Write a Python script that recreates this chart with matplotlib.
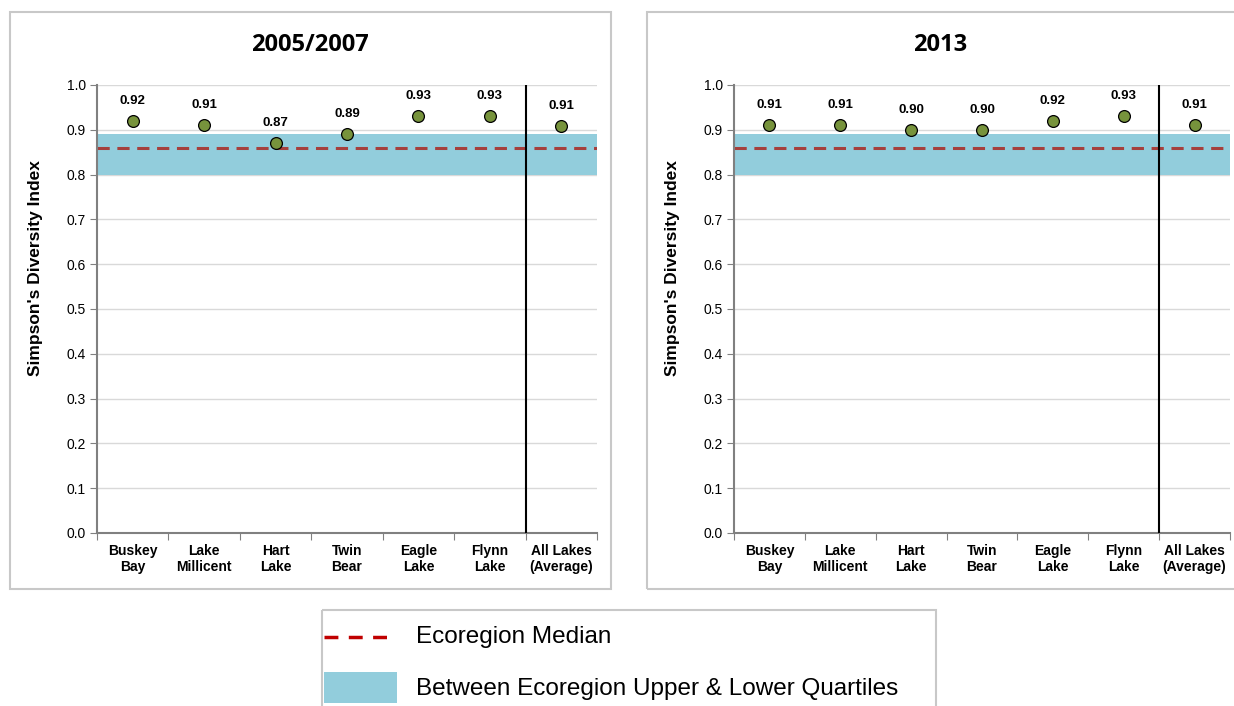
import matplotlib
matplotlib.use("Agg")
import matplotlib.pyplot as plt
from matplotlib.patches import Rectangle
from matplotlib.lines import Line2D

categories = ["Buskey\nBay", "Lake\nMillicent", "Hart\nLake", "Twin\nBear",
              "Eagle\nLake", "Flynn\nLake", "All Lakes\n(Average)"]
values_2005 = [0.92, 0.91, 0.87, 0.89, 0.93, 0.93, 0.908]
labels_2005 = ["0.92", "0.91", "0.87", "0.89", "0.93", "0.93", "0.91"]
values_2013 = [0.91, 0.91, 0.90, 0.90, 0.92, 0.93, 0.911]
labels_2013 = ["0.91", "0.91", "0.90", "0.90", "0.92", "0.93", "0.91"]
titles = ["2005/2007", "2013"]
eco_median = 0.86
eco_lower = 0.80
eco_upper = 0.89
yticks = [0.0, 0.1, 0.2, 0.3, 0.4, 0.5, 0.6, 0.7, 0.8, 0.9, 1.0]

W, H = 1234, 706
fig = plt.figure(figsize=(W / 100, H / 100), dpi=100)
plt.rcParams['font.family'] = ['Liberation Sans', 'DejaVu Sans']

band_color = "#92CDDC"
median_color = "#A5403D"
marker_color = "#77933C"

def fx(px):
    return px / W

def fy(py):
    return 1 - py / H

# panel borders
for (x0, x1) in [(10, 611), (647, 1240)]:
    fig.patches.append(Rectangle((fx(x0), fy(589)), fx(x1 - x0), (589 - 12) / H,
                                 transform=fig.transFigure, fill=False,
                                 edgecolor="#C8C8C8", linewidth=1.5))

axes_px = [(97, 597), (734, 1230)]
data = [(values_2005, labels_2005), (values_2013, labels_2013)]
title_x = [310, 940]
ylabel_x = [36, 673]

for i, ((x0, x1), (vals, labs)) in enumerate(zip(axes_px, data)):
    ax = fig.add_axes([fx(x0), fy(533), fx(x1 - x0), (533 - 85) / H])
    ax.set_xlim(-0.5, len(categories) - 0.5)
    ax.set_ylim(0, 1.0)
    ax.set_yticks(yticks)
    ax.set_yticklabels([f"{v:.1f}" for v in yticks], fontsize=10)
    ax.yaxis.grid(True, color="#D9D9D9", linewidth=1)
    ax.set_axisbelow(True)
    ax.axhspan(eco_lower, eco_upper, color=band_color, zorder=1, linewidth=0)
    ax.axhline(eco_median, color=median_color, linestyle=(0, (4, 2.5)), linewidth=2.2, zorder=2)
    ax.axvline(len(categories) - 1.5, color="black", linewidth=1.5, zorder=3)
    xs = list(range(len(categories)))
    ax.plot(xs, vals, linestyle="none", marker="o", markersize=8.5,
            markerfacecolor=marker_color, markeredgecolor="black",
            markeredgewidth=0.9, zorder=4)
    for x, v, lab in zip(xs, vals, labs):
        ax.annotate(lab, (x, v), xytext=(0, 10), textcoords="offset points",
                    ha="center", va="bottom", fontsize=9.5, fontweight="bold")
    # category ticks between categories
    ax.set_xticks([x + 0.5 for x in range(-1, len(categories))], minor=False)
    ax.set_xticklabels([])
    ax.tick_params(axis="x", length=5, color="#808080", direction="out")
    ax.set_xticks(xs, minor=True)
    ax.set_xticklabels(categories, minor=True, fontsize=10, fontweight="bold",
                       linespacing=1.15)
    ax.tick_params(axis="x", which="minor", length=0, pad=8)
    ax.tick_params(axis="y", length=5, color="#808080", pad=3)
    for s in ["top", "right"]:
        ax.spines[s].set_visible(False)
    for s in ["left", "bottom"]:
        ax.spines[s].set_color("#808080")
        ax.spines[s].set_linewidth(1.5)
    fig.text(fx(ylabel_x[i]), fy(268), "Simpson's Diversity Index", rotation=90,
             ha="center", va="center", fontsize=12.5, fontweight="bold")
    fig.text(fx(title_x[i]), fy(45), titles[i], ha="center", va="center",
             fontsize=17, fontweight="bold",
             family=["Open Sans", "DejaVu Sans"])

# legend
lx0, lx1, ly0, ly1 = 322, 936, 610, 720
lax = fig.add_axes([fx(lx0), fy(ly1), fx(lx1 - lx0), (ly1 - ly0) / H])
lax.set_xlim(lx0, lx1)
lax.set_ylim(ly1, ly0)
lax.axis("off")
lax.add_patch(Rectangle((lx0, ly0), lx1 - lx0, ly1 - ly0, fill=False,
                        edgecolor="#C8C8C8", linewidth=1.5, clip_on=False))
lax.add_line(Line2D([324, 395], [637, 637], color="#C00000", linewidth=2.5,
                    linestyle=(0, (4, 3))))
lax.add_patch(Rectangle((324, 672), 73, 31, color=band_color, linewidth=0))
lax.text(416, 637, "Ecoregion Median", va="center", ha="left", fontsize=17.5)
lax.text(416, 689, "Between Ecoregion Upper & Lower Quartiles", va="center",
         ha="left", fontsize=17.5)

fig.savefig("out.png", dpi=100)
